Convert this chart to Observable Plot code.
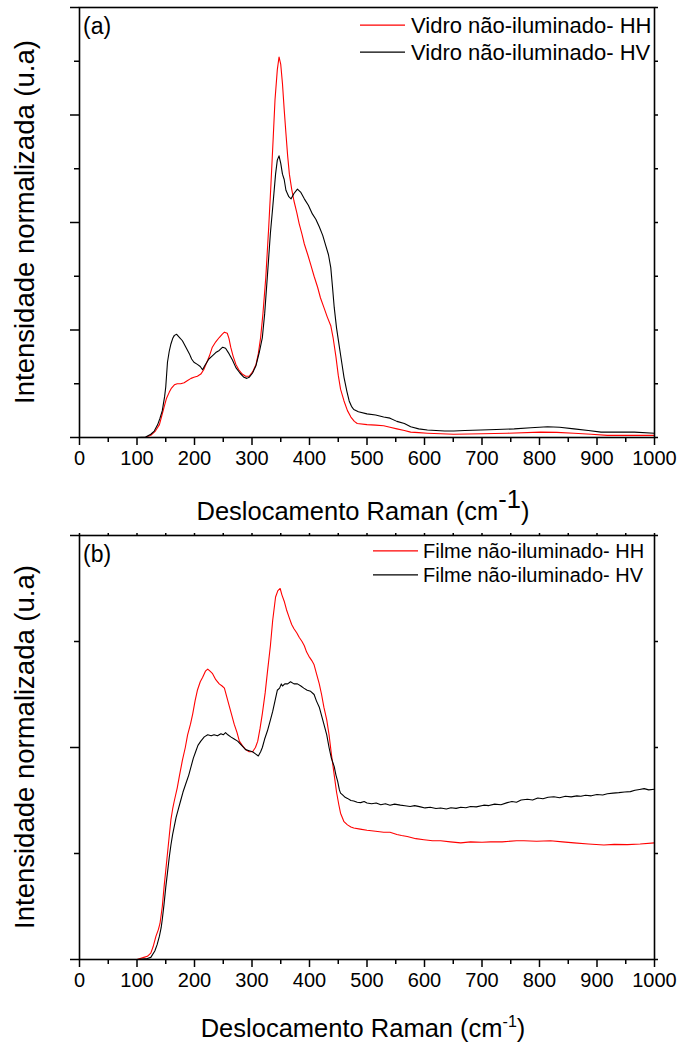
<!DOCTYPE html>
<html><head><meta charset="utf-8">
<script src="https://cdn.jsdelivr.net/npm/d3@7"></script>
<script src="https://cdn.jsdelivr.net/npm/@observablehq/plot@0.6"></script>
<style>
body{margin:0;background:#fff;}
#chart{width:680px;height:1045px;font-family:"Liberation Sans",Arial,sans-serif;}
svg{display:block;}
</style></head><body><div id="chart"></div>
<script>
// ---- Panel (a): Vidro não-iluminado ----
const vidroHH_x = [100,115,124,132,139,143,147,151,156,160,165,170,176,182,188,194,199,205,211,216,220,226,231,237,243,248,252,257,260,263,267,272,277,283,289,295,301,307,311,315,319,324,329,333,337,340,344,347,350,353,356,359,362,365,369,373,378,382,387,391,397,402,408,414,419,425,431,437,441,446,450,454,460,466,472,478,483,500,515,529,540,552,565,576,590,605,651,700,744,802,830,860,890,918,1000];
const vidroHH_y = [0,0.003,0.02,0.06,0.12,0.2,0.28,0.36,0.42,0.46,0.49,0.5,0.5,0.51,0.53,0.55,0.56,0.57,0.59,0.63,0.68,0.76,0.84,0.89,0.93,0.96,0.98,0.97,0.92,0.84,0.76,0.68,0.63,0.59,0.57,0.57,0.61,0.68,0.78,0.93,1.15,1.49,1.95,2.36,2.8,3.14,3.42,3.54,3.47,3.29,3.05,2.83,2.62,2.45,2.31,2.2,2.09,1.99,1.89,1.8,1.7,1.61,1.5,1.4,1.3,1.21,1.12,1.04,0.93,0.75,0.58,0.45,0.34,0.25,0.19,0.15,0.13,0.12,0.115,0.11,0.095,0.08,0.065,0.05,0.045,0.04,0.03,0.035,0.04,0.05,0.048,0.04,0.03,0.02,0.02];
const vidroHV_x = [100,115,124,130,136,140,144,148,150,153,156,159,162,165,169,174,179,185,191,195,199,205,210,214,218,225,231,237,243,249,254,260,266,272,279,286,291,295,301,307,313,318,322,327,332,336,341,344,347,350,353,356,359,364,368,373,379,385,391,398,405,411,417,423,428,433,437,440,443,447,452,456,460,465,469,473,477,485,500,515,529,540,552,565,576,590,605,620,635,651,670,698,725,756,785,814,835,860,885,907,935,965,1000];
const vidroHV_y = [0,0.005,0.03,0.06,0.12,0.18,0.25,0.38,0.47,0.7,0.8,0.87,0.92,0.95,0.96,0.93,0.9,0.84,0.78,0.73,0.7,0.68,0.66,0.63,0.67,0.73,0.76,0.79,0.81,0.84,0.83,0.78,0.72,0.65,0.6,0.56,0.55,0.56,0.6,0.67,0.8,0.93,1.15,1.52,1.9,2.14,2.45,2.58,2.62,2.55,2.45,2.4,2.3,2.24,2.22,2.27,2.31,2.28,2.22,2.16,2.08,2.03,1.96,1.88,1.79,1.7,1.58,1.4,1.21,1.02,0.84,0.7,0.56,0.43,0.34,0.29,0.26,0.24,0.22,0.21,0.19,0.18,0.15,0.13,0.1,0.08,0.07,0.065,0.06,0.06,0.065,0.07,0.075,0.08,0.09,0.1,0.095,0.08,0.065,0.05,0.05,0.05,0.04];

// ---- Panel (b): Filme não-iluminado ----
const filmeHH_x = [100,112,118,124,128,133,137,140,144,147,150,153,156,159,162,165,170,174,179,184,188,193,197,201,205,210,214,219,223,227,231,237,243,248,252,256,260,265,269,274,278,283,289,295,301,306,310,314,318,323,327,332,336,341,345,349,352,356,360,365,369,373,378,382,387,391,395,399,404,408,412,417,421,425,430,434,438,443,447,451,454,457,460,466,472,477,488,500,515,529,540,552,560,570,585,599,614,628,645,663,680,700,715,735,760,773,795,819,840,860,885,912,930,953,975,1000];
const filmeHH_y = [0,0.01,0.015,0.03,0.06,0.11,0.14,0.17,0.25,0.34,0.42,0.5,0.58,0.66,0.71,0.75,0.81,0.87,0.94,1.0,1.06,1.11,1.16,1.22,1.27,1.31,1.33,1.36,1.37,1.36,1.35,1.32,1.3,1.29,1.28,1.24,1.2,1.15,1.11,1.07,1.03,1.01,0.99,0.98,0.98,1.0,1.03,1.09,1.16,1.26,1.36,1.48,1.6,1.71,1.74,1.75,1.72,1.69,1.65,1.61,1.58,1.56,1.54,1.52,1.5,1.48,1.45,1.43,1.41,1.39,1.35,1.3,1.25,1.19,1.13,1.06,0.97,0.87,0.79,0.73,0.69,0.67,0.65,0.635,0.625,0.62,0.615,0.61,0.605,0.6,0.6,0.59,0.585,0.58,0.57,0.565,0.56,0.56,0.555,0.55,0.555,0.553,0.555,0.555,0.56,0.56,0.558,0.56,0.555,0.55,0.545,0.54,0.543,0.542,0.545,0.55];
const filmeHV_x = [100,118,124,131,135,139,142,144,147,150,153,156,159,162,165,168,172,176,180,185,190,194,198,202,206,211,217,223,229,234,240,246,250,254,258,263,269,275,282,289,295,301,306,311,315,318,322,327,331,336,340,344,348,351,353,357,362,367,373,379,385,390,396,402,408,412,417,421,425,430,434,438,443,446,449,452,454,458,462,466,472,477,483,489,495,500,508,516,524,532,540,548,558,566,575,583,593,601,610,620,628,638,646,655,663,672,680,690,703,712,722,733,744,752,760,768,779,788,797,806,815,825,835,845,855,865,872,880,890,900,910,918,928,938,948,958,966,974,982,990,1000];
const filmeHV_y = [0,0.005,0.01,0.04,0.07,0.11,0.15,0.19,0.26,0.34,0.41,0.48,0.54,0.59,0.63,0.67,0.71,0.75,0.79,0.83,0.87,0.91,0.95,0.98,1.01,1.03,1.05,1.06,1.055,1.06,1.055,1.065,1.06,1.07,1.06,1.05,1.04,1.03,1.01,0.99,0.985,0.98,0.97,0.96,0.98,1.0,1.04,1.08,1.12,1.17,1.22,1.27,1.28,1.3,1.29,1.3,1.3,1.31,1.3,1.3,1.29,1.28,1.27,1.265,1.25,1.22,1.19,1.15,1.11,1.06,1.0,0.95,0.91,0.87,0.84,0.8,0.785,0.775,0.765,0.76,0.75,0.748,0.742,0.74,0.745,0.738,0.735,0.738,0.73,0.735,0.728,0.733,0.728,0.725,0.722,0.726,0.72,0.715,0.718,0.712,0.715,0.71,0.716,0.713,0.718,0.716,0.722,0.72,0.728,0.726,0.733,0.73,0.74,0.745,0.742,0.752,0.756,0.752,0.762,0.758,0.765,0.768,0.763,0.77,0.767,0.772,0.77,0.775,0.772,0.778,0.776,0.782,0.785,0.787,0.79,0.792,0.798,0.802,0.806,0.8,0.803];

const xMajorTicks = [0,100,200,300,400,500,600,700,800,900,1000];
const xMinorTicks = [50,150,250,350,450,550,650,750,850,950];
const panelTags = ["(a)", "(b)"];
const legendA = ["Vidro não-iluminado- HH", "Vidro não-iluminado- HV"];
const legendB = ["Filme não-iluminado- HH", "Filme não-iluminado- HV"];
const seriesColors = ["#ff0000", "#000000"];
const xTitle = "Deslocamento Raman (cm";
const xTitleSup = "-1";
const yTitle = "Intensidade normalizada (u.a)";

const FONT = "'Liberation Sans', Arial, sans-serif";
const toRows = (xs, ys) => xs.map((x, i) => ({x, y: ys[i]}));

function panel(opts) {
  const {height, marginTop, marginBottom, yMax, yMajor, yMinor, series, legend, tag, legendFont, legendRows, legendLine, legendTextX, tagY, titleY, supSize, supDy, topTicks} = opts;
  const yAll = [...yMajor, ...yMinor];
  const marks = [
    Plot.axisX({ticks: xMajorTicks, tickSize: 8, tickPadding: 5, strokeWidth: 1.5, fontSize: 20, tickFormat: d3.format("d")}),
    Plot.axisX({ticks: xMinorTicks, tickSize: 5, strokeWidth: 1.5, tickFormat: () => ""}),
    Plot.axisY({ticks: yMajor, tickSize: 9, strokeWidth: 1.5, tickFormat: () => ""}),
    Plot.axisY({ticks: yMinor, tickSize: 5, strokeWidth: 1.5, tickFormat: () => ""}),
    Plot.axisY({anchor: "right", ticks: yAll, tickSize: 3, strokeWidth: 1.5, tickFormat: () => ""}),
  ];
  if (topTicks) marks.push(Plot.axisX({anchor: "top", ticks: [...xMajorTicks, ...xMinorTicks], tickSize: 3, strokeWidth: 1.5, tickFormat: () => ""}));
  series.forEach((s, i) => {
    marks.push(Plot.line(toRows(s.x, s.y), {x: "x", y: "y", stroke: seriesColors[i], strokeWidth: 1.1}));
  });
  marks.push(Plot.frame({stroke: "#000", strokeWidth: 1.6}));
  const svg = Plot.plot({
    width: 680, height,
    marginLeft: 79, marginRight: 26, marginTop, marginBottom,
    style: {fontFamily: FONT, color: "#000", background: "#fff", overflow: "visible"},
    x: {domain: [0, 1000], label: null},
    y: {domain: [0, yMax], label: null},
    marks
  });
  const s = d3.select(svg);
  // panel tag
  s.append("text").attr("x", 83).attr("y", tagY).attr("text-anchor", "start").attr("font-family", FONT).attr("font-size", 23).attr("fill", "#000").text(tag);
  // legend
  legend.forEach((t, i) => {
    s.append("line").attr("x1", legendLine[0]).attr("x2", legendLine[1])
      .attr("y1", legendRows[i] - legendFont * 0.36).attr("y2", legendRows[i] - legendFont * 0.36)
      .attr("stroke", seriesColors[i]).attr("stroke-width", 1.3);
    s.append("text").attr("x", legendTextX).attr("y", legendRows[i]).attr("text-anchor", "start").attr("font-family", FONT)
      .attr("font-size", legendFont).attr("fill", "#000").text(t);
  });
  // x title
  const xt = s.append("text").attr("x", 363).attr("y", titleY).attr("text-anchor", "middle")
    .attr("font-family", FONT).attr("font-size", 25.5).attr("fill", "#000");
  xt.append("tspan").text(xTitle);
  xt.append("tspan").attr("font-size", supSize).attr("dy", supDy).text(xTitleSup);
  xt.append("tspan").attr("dy", -supDy).text(")");
  // y title
  const cy = marginTop + (height - marginTop - marginBottom) / 2;
  s.append("text").attr("transform", `translate(34,${cy}) rotate(-90)`).attr("text-anchor", "middle")
    .attr("font-family", FONT).attr("font-size", 27.5).attr("fill", "#000").text(yTitle);
  return svg;
}

const root = document.getElementById("chart");
root.appendChild(panel({
  height: 522, marginTop: 7, marginBottom: 85, yMax: 4,
  yMajor: [0,1,2,3,4], yMinor: [0.5,1.5,2.5,3.5],
  series: [{x: vidroHH_x, y: vidroHH_y}, {x: vidroHV_x, y: vidroHV_y}],
  legend: legendA, tag: panelTags[0], legendFont: 22, legendRows: [33, 60], legendLine: [360, 405], legendTextX: 411,
  tagY: 34, titleY: 520, supSize: 25.5, supDy: -12, topTicks: false
}));
root.appendChild(panel({
  height: 523, marginTop: 13, marginBottom: 86, yMax: 2,
  yMajor: [0,1,2], yMinor: [0.5,1.5],
  series: [{x: filmeHH_x, y: filmeHH_y}, {x: filmeHV_x, y: filmeHV_y}],
  legend: legendB, tag: panelTags[1], legendFont: 20, legendRows: [36, 60], legendLine: [373, 418], legendTextX: 423,
  tagY: 40, titleY: 515, supSize: 16, supDy: -10, topTicks: true
}));
</script></body></html>
